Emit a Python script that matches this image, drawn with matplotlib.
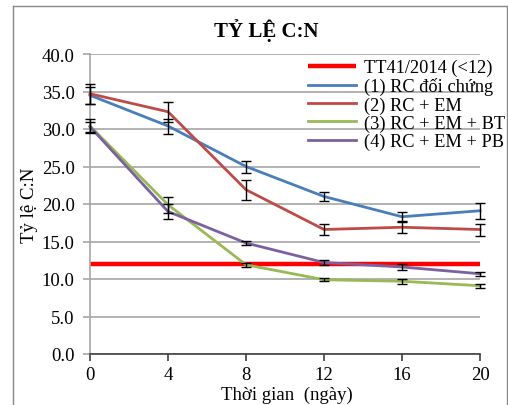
import matplotlib
matplotlib.use("Agg")
import matplotlib.pyplot as plt
from matplotlib.lines import Line2D

plt.rcParams["font.family"] = ["Liberation Serif", "DejaVu Serif"]

# data
days = [0, 4, 8, 12, 16, 20]
limit = 12
ctrl = [34.5, 30.4, 25.0, 21.0, 18.3, 19.1]
ctrl_err = [1.1, 1.0, 0.8, 0.6, 0.7, 1.1]
em = [34.7, 32.3, 21.9, 16.6, 16.9, 16.6]
em_err = [1.3, 1.3, 1.3, 0.7, 0.8, 0.8]
em_bt = [30.4, 19.9, 11.9, 9.9, 9.7, 9.1]
em_bt_err = [0.9, 1.1, 0.3, 0.2, 0.3, 0.3]
em_pb = [30.3, 19.0, 14.8, 12.2, 11.6, 10.7]
em_pb_err = [0.7, 1.0, 0.3, 0.3, 0.4, 0.3]

labels = ["TT41/2014 (<12)", "(1) RC đối chứng", "(2) RC + EM",
          "(3) RC + EM + BT", "(4) RC + EM + PB"]
colors = ["#ff0000", "#4a7ebb", "#be4b48", "#98b954", "#7d60a0"]

fs = 13.5

fig = plt.figure(figsize=(5.08, 4.06), dpi=100)
ax = fig.add_axes([90 / 508, 1 - 355 / 406, 390 / 508, 300 / 406])

ax.plot(days, [limit] * len(days), color=colors[0], lw=3.2, label=labels[0],
        zorder=2, clip_on=False, solid_capstyle="butt")
series = [(ctrl, ctrl_err), (em, em_err), (em_bt, em_bt_err), (em_pb, em_pb_err)]
for (vals, err), lab, col in zip(series, labels[1:], colors[1:]):
    ax.plot(days, vals, color=col, lw=2, label=lab, zorder=3, clip_on=False)
    ax.errorbar(days, vals, yerr=err, fmt="none", ecolor="black", elinewidth=1,
                capsize=3.5, capthick=1, zorder=4, clip_on=False)

ax.set_xlim(0, 20)
ax.set_ylim(0, 40)
ax.set_xticks(days)
ax.set_yticks(range(0, 41, 5))
ax.set_yticklabels([f"{v:.1f}" for v in range(0, 41, 5)])
ax.grid(axis="y", color="#a6a6a6", lw=1.2)
ax.set_axisbelow(True)
for s in ["top", "right"]:
    ax.spines[s].set_visible(False)
ax.spines["left"].set_color("#a6a6a6")
ax.spines["left"].set_linewidth(1.2)
ax.spines["bottom"].set_color("#404040")
ax.spines["bottom"].set_linewidth(1.2)
ax.tick_params(axis="y", length=5, color="#a6a6a6", width=1.2, labelsize=fs, pad=6)
ax.tick_params(axis="x", length=5, color="#404040", width=1.2, labelsize=fs, pad=4)

fig.text(266 / 508, 1 - 31 / 406, "TỶ LỆ C:N", ha="center", va="center",
         fontsize=15, fontweight="bold")
fig.text(287 / 508, 1 - 395 / 406, "Thời gian  (ngày)", ha="center", va="center",
         fontsize=fs)
fig.text(30 / 508, 1 - 205 / 406, "Tỷ lệ C:N", ha="center", va="center",
         rotation=90, fontsize=fs)

ax.legend(loc="upper left", bbox_to_anchor=(308 / 508, 1 - 60 / 406),
          bbox_transform=fig.transFigure, frameon=False, fontsize=13.2,
          borderpad=0, borderaxespad=0, handlelength=2.6, handletextpad=0.45,
          labelspacing=0.05)

# chart border
fig.add_artist(Line2D([13 / 508, 13 / 508], [0, 1 - 7 / 406], color="#888888", lw=1))
fig.add_artist(Line2D([13 / 508, 507 / 508], [1 - 7 / 406, 1 - 7 / 406], color="#888888", lw=1))
fig.add_artist(Line2D([507 / 508, 507 / 508], [0, 1 - 7 / 406], color="#888888", lw=1))

fig.savefig("out.png", dpi=100)
plt.close()
